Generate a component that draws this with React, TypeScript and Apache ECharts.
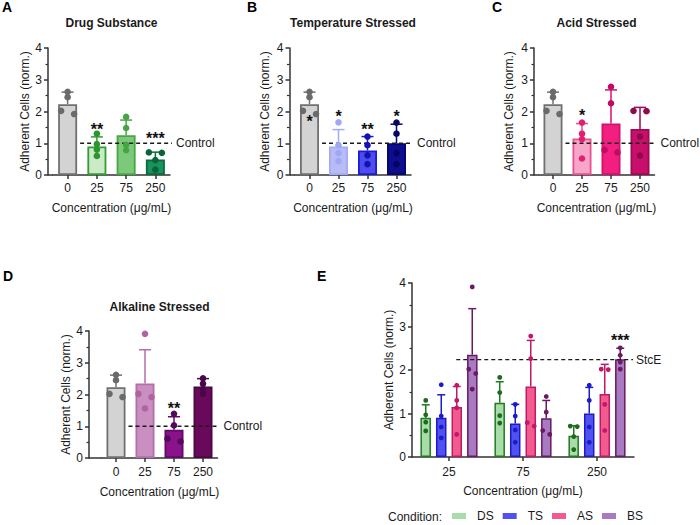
import React, { useEffect, useRef } from 'react';
import * as echarts from 'echarts';

// ---------- data ----------
const concentrations = ['0', '25', '75', '250'];
const eGroups = ['25', '75', '250'];
const conditions = ['DS', 'TS', 'AS', 'BS'];

const controlMean = 2.23;
const controlSD = 0.38;
const controlPoints = [2.62, 2.45, 2.02, 1.92];

const dsMeans = [0.9, 1.25, 0.49];
const dsSD = [0.3, 0.48, 0.23];
const dsPoints = [[1.3, 0.97, 0.8, 0.6], [1.83, 1.48, 0.95, 0.78], [0.71, 0.7, 0.47, 0.17]];

const tsMeans = [0.9, 0.77, 1.0];
const tsSD = [0.53, 0.44, 0.6];
const tsPoints = [[1.66, 0.94, 0.69, 0.44], [1.21, 0.94, 0.62, 0.34], [1.65, 1.3, 0.69, 0.34]];

const asMeans = [1.15, 1.62, 1.45];
const asSD = [0.47, 1.06, 0.68];
const asPoints = [[1.65, 1.3, 1.13, 0.52], [2.78, 2.26, 0.79, 0.71], [2.02, 2.01, 1.21, 0.61]];

const bsMeans = [2.35, 0.89, 2.25];
const bsSD = [1.06, 0.41, 0.25];
const bsPoints = [[3.91, 2.02, 1.92, 1.56], [1.39, 1.03, 0.61, 0.52], [2.51, 2.34, 2.18, 2.02]];

const controlLevel = 1;
const stceLevel = 2.24;

const dsStars = ['', '**', '', '***'];
const dsStarLevel = [0, 1.57, 0, 1.26];
const tsStars = ['*', '*', '**', '*'];
const tsStarLevel = [1.8, 1.98, 1.57, 1.98];
const asStars = ['', '*', '', ''];
const asStarLevel = [0, 1.99, 0, 0];
const bsStars = ['', '', '**', ''];
const bsStarLevel = [0, 0, 1.67, 0];
const eStars = [['', '', ''], ['', '', ''], ['', '', ''], ['', '', '***']];
const eStarLevel = [[0, 0, 0], [0, 0, 0], [0, 0, 0], [0, 0, 2.76]];

const panelTitles = ['Drug Substance', 'Temperature Stressed', 'Acid Stressed', 'Alkaline Stressed'];
const panelLetters = ['A', 'B', 'C', 'D', 'E'];

// ---------- styles ----------
const FONT = '"Liberation Sans", Arial, Helvetica, sans-serif';
const TXT = '#1a1a1a';
const AX = '#333333';

const grayFill = '#d3d3d3';
const grayBorder = '#707070';
const grayDot = '#6a6a6a';

const panelStyles = [
  {
    fills: [grayFill, '#cbeac6', '#7cc97a', '#17935c'],
    borders: [grayBorder, '#2f9e33', '#47a647', '#0c6a3c'],
    dots: [grayDot, '#2a962e', '#45a545', '#0b6339'],
  },
  {
    fills: [grayFill, '#b7bcf7', '#4d4ded', '#0d0d8f'],
    borders: [grayBorder, '#a4abf5', '#1c1cd2', '#07076b'],
    dots: [grayDot, '#a0a7f4', '#1212b8', '#050560'],
  },
  {
    fills: [grayFill, '#f7a6c9', '#f21f80', '#c8106b'],
    borders: [grayBorder, '#ea4f91', '#d3106c', '#9d0a55'],
    dots: [grayDot, '#e21f72', '#c20a62', '#8f0a4b'],
  },
  {
    fills: [grayFill, '#c98fc1', '#8a128a', '#680a59'],
    borders: [grayBorder, '#b26fa9', '#600a69', '#4c0846'],
    dots: [grayDot, '#b062a2', '#520a5a', '#470848'],
  },
];
const eStyles = {
  fills: ['#a9dca8', '#5151f0', '#f25b8e', '#a87ac1'],
  borders: ['#1f7b1f', '#1b1bc8', '#c1186a', '#6a1a60'],
  dots: ['#1e6b1e', '#1b1bc8', '#c1186a', '#6a1a60'],
};

const grids = [
  { left: 53, top: 48, width: 117, height: 127 },
  { left: 295, top: 48, width: 116, height: 127 },
  { left: 538.5, top: 48, width: 116, height: 127 },
  { left: 101.5, top: 331, width: 116, height: 127 },
  { left: 412, top: 283, width: 222, height: 174 },
];
const yOffsets = [5, 5.5, 4.5, 12.5, 0];
const yNameGaps = [16, 19, 19, 13, 17];
const xLabelMargins = [7, 7, 7, 8, 9];
const xNameGaps = [27, 27, 27, 28, 28];
const titleCenters = [
  [111.5, 23],
  [353, 23],
  [596.5, 23],
  [159.5, 307],
];
const letterPos = [
  [2, 7],
  [247, 7],
  [492, 7],
  [3, 276],
  [317, 276],
];

// ---------- renderers ----------
type RenderOpts = {
  points: number[][];
  dotColors: string[];
  errColors: string[];
  stars: string[];
  starLevel: number[];
  xOffset: number;
  capW: number;
  r: number;
  spread: number;
  thr: number;
  ref?: { level: number; start: number; endExtra: number; textGap: number; label: string };
};

function makeRender(o: RenderOpts) {
  return (params: any, api: any) => {
    const i = params.dataIndex;
    const idx = api.value(0);
    const mean = api.value(1);
    const sd = api.value(2);
    const base = api.coord([idx, mean]);
    const cx = base[0] + o.xOffset;
    const yMean = base[1];
    const yTop = api.coord([idx, mean + sd])[1];
    const children: any[] = [];
    const ec = o.errColors[i];

    if (i === 0 && o.ref) {
      const cs = params.coordSys;
      const p = api.coord([0, o.ref.level]);
      const x1 = p[0] + o.ref.start;
      const x2 = cs.x + cs.width + o.ref.endExtra;
      children.push({
        type: 'line',
        z2: 5,
        shape: { x1, y1: p[1], x2, y2: p[1] },
        style: { stroke: '#1a1a1a', lineWidth: 1.3, lineDash: [4, 3] },
      });
      children.push({
        type: 'text',
        x: x2 + o.ref.textGap,
        y: p[1],
        style: { text: o.ref.label, fill: TXT, font: `12px ${FONT}`, align: 'left', verticalAlign: 'middle' },
      });
    }

    children.push({
      type: 'line',
      z2: 10,
      shape: { x1: cx, y1: yMean, x2: cx, y2: yTop },
      style: { stroke: ec, lineWidth: 1.5 },
    });
    children.push({
      type: 'line',
      z2: 10,
      shape: { x1: cx - o.capW / 2, y1: yTop, x2: cx + o.capW / 2, y2: yTop },
      style: { stroke: ec, lineWidth: 1.5 },
    });

    const pts = o.points[i]
      .map((v) => api.coord([idx, v])[1])
      .sort((a: number, b: number) => a - b);
    const clusters: number[][] = [];
    pts.forEach((y: number) => {
      const last = clusters[clusters.length - 1];
      if (last && y - last[last.length - 1] < o.thr) last.push(y);
      else clusters.push([y]);
    });
    clusters.forEach((cl) => {
      const n = cl.length;
      cl.forEach((y, j) => {
        children.push({
          type: 'circle',
          z2: 20,
          shape: { cx: cx + (j - (n - 1) / 2) * o.spread, cy: y, r: o.r },
          style: { fill: o.dotColors[i] },
        });
      });
    });

    if (o.stars[i]) {
      const ys = api.coord([idx, o.starLevel[i]])[1];
      children.push({
        type: 'text',
        z2: 30,
        x: cx,
        y: ys + 4,
        style: {
          text: o.stars[i],
          fill: '#111',
          font: `bold 16px ${FONT}`,
          align: 'center',
          verticalAlign: 'middle',
        },
      });
    }
    return { type: 'group', children };
  };
}

function buildOption() {
  const grid: any[] = grids.map((g) => ({ ...g, containLabel: false }));
  const xAxis: any[] = [];
  const yAxis: any[] = [];
  const series: any[] = [];
  const graphic: any[] = [];

  for (let k = 0; k < 5; k++) {
    const isE = k === 4;
    xAxis.push({
      type: 'category',
      gridIndex: k,
      data: isE ? eGroups : concentrations,
      axisLine: { show: true, lineStyle: { color: AX, width: 1.5 } },
      axisTick: { show: true, alignWithLabel: true, length: 4, lineStyle: { color: AX, width: 1.5 } },
      axisLabel: { fontSize: 12, color: TXT, margin: xLabelMargins[k], fontFamily: FONT },
      name: 'Concentration (μg/mL)',
      nameLocation: 'middle',
      nameGap: xNameGaps[k],
      nameTextStyle: { fontSize: 12, color: TXT, fontFamily: FONT },
      splitLine: { show: false },
    });
    yAxis.push({
      type: 'value',
      gridIndex: k,
      min: 0,
      max: 4,
      interval: 1,
      offset: yOffsets[k],
      name: 'Adherent Cells (norm.)',
      nameLocation: 'middle',
      nameGap: yNameGaps[k],
      nameTextStyle: { fontSize: 12, color: TXT, fontFamily: FONT },
      axisLine: { show: true, lineStyle: { color: AX, width: 1.5 } },
      axisTick: { show: true, length: 4, lineStyle: { color: AX, width: 1.5 } },
      minorTick: { show: true, splitNumber: 2, length: 2.5, lineStyle: { color: AX, width: 1.2 } },
      axisLabel: { fontSize: 12, color: TXT, margin: 6, fontFamily: FONT },
      splitLine: { show: false },
    });
    if (yOffsets[k] > 0) {
      const g = grids[k];
      graphic.push({
        type: 'line',
        shape: { x1: g.left - yOffsets[k], y1: g.top + g.height, x2: g.left, y2: g.top + g.height },
        style: { stroke: AX, lineWidth: 1.5 },
      });
    }
  }

  const panelData = [
    { means: dsMeans, sd: dsSD, pts: dsPoints, stars: dsStars, lvl: dsStarLevel },
    { means: tsMeans, sd: tsSD, pts: tsPoints, stars: tsStars, lvl: tsStarLevel },
    { means: asMeans, sd: asSD, pts: asPoints, stars: asStars, lvl: asStarLevel },
    { means: bsMeans, sd: bsSD, pts: bsPoints, stars: bsStars, lvl: bsStarLevel },
  ];

  panelData.forEach((pd, k) => {
    const st = panelStyles[k];
    const means = [controlMean, ...pd.means];
    const sds = [controlSD, ...pd.sd];
    const pts = [controlPoints, ...pd.pts];
    series.push({
      type: 'bar',
      xAxisIndex: k,
      yAxisIndex: k,
      barWidth: 19,
      silent: true,
      data: means.map((v, i) => ({
        value: v,
        itemStyle: { color: st.fills[i], borderColor: st.borders[i], borderWidth: 1.8 },
      })),
    });
    series.push({
      type: 'custom',
      xAxisIndex: k,
      yAxisIndex: k,
      silent: true,
      clip: false,
      z: 5,
      encode: { x: 0, y: 1 },
      data: means.map((v, i) => [i, v, sds[i]]),
      renderItem: makeRender({
        points: pts,
        dotColors: st.dots,
        errColors: st.borders,
        stars: pd.stars,
        starLevel: pd.lvl,
        xOffset: 0,
        capW: 12,
        r: 3.3,
        spread: 13,
        thr: 5,
        ref: { level: controlLevel, start: 12.5, endExtra: 2, textGap: 4, label: 'Control' },
      }),
    });
  });

  const eMeans = [dsMeans, tsMeans, asMeans, bsMeans];
  const eSD = [dsSD, tsSD, asSD, bsSD];
  const ePts = [dsPoints, tsPoints, asPoints, bsPoints];
  const eBarW = 10.5;
  const ePitch = 15.5;
  conditions.forEach((name, c) => {
    series.push({
      type: 'bar',
      name,
      xAxisIndex: 4,
      yAxisIndex: 4,
      barWidth: eBarW,
      barGap: '48%',
      silent: true,
      itemStyle: { color: eStyles.fills[c], borderColor: eStyles.borders[c], borderWidth: 1.5 },
      data: eMeans[c],
    });
  });
  conditions.forEach((name, c) => {
    series.push({
      type: 'custom',
      xAxisIndex: 4,
      yAxisIndex: 4,
      silent: true,
      clip: false,
      z: 5,
      encode: { x: 0, y: 1 },
      data: eMeans[c].map((v, i) => [i, v, eSD[c][i]]),
      renderItem: makeRender({
        points: ePts[c],
        dotColors: eStyles.dots.map(() => eStyles.dots[c]),
        errColors: eStyles.borders.map(() => eStyles.borders[c]),
        stars: eStars[c],
        starLevel: eStarLevel[c],
        xOffset: (c - 1.5) * ePitch,
        capW: 8,
        r: 2.4,
        spread: 7,
        thr: 5,
        ref:
          c === 3
            ? { level: stceLevel, start: eBarW / 2 + 2, endExtra: -1, textGap: 3, label: 'StcE' }
            : undefined,
      }),
    });
  });

  panelTitles.forEach((t, k) => {
    graphic.push({
      type: 'text',
      x: titleCenters[k][0],
      y: titleCenters[k][1],
      style: { text: t, fill: TXT, font: `bold 12px ${FONT}`, align: 'center', verticalAlign: 'middle' },
    });
  });
  panelLetters.forEach((t, k) => {
    graphic.push({
      type: 'text',
      x: letterPos[k][0],
      y: letterPos[k][1],
      style: { text: t, fill: '#000', font: `bold 14px ${FONT}`, align: 'left', verticalAlign: 'middle' },
    });
  });
  graphic.push({
    type: 'text',
    x: 388,
    y: 517,
    style: { text: 'Condition:', fill: TXT, font: `12px ${FONT}`, align: 'left', verticalAlign: 'middle' },
  });

  return {
    animation: false,
    backgroundColor: '#ffffff',
    grid,
    xAxis,
    yAxis,
    series,
    graphic,
    legend: {
      data: conditions.map((n) => ({ name: n, itemStyle: { borderWidth: 0 } })),
      left: 452,
      top: 510,
      padding: 0,
      itemWidth: 14,
      itemHeight: 6,
      itemGap: 9,
      icon: 'rect',
      selectedMode: false,
      itemStyle: { borderWidth: 0 },
      textStyle: { fontSize: 12, color: TXT, fontFamily: FONT, padding: [0, 0, 0, 6] },
    },
  };
}

export default function App() {
  const ref = useRef<HTMLDivElement>(null);
  useEffect(() => {
    if (!ref.current) return;
    const chart = echarts.init(ref.current, undefined, { renderer: 'svg' });
    chart.setOption(buildOption() as any);
    return () => chart.dispose();
  }, []);
  return (
    <div
      ref={ref}
      style={{ position: 'fixed', left: 0, top: 0, width: 700, height: 525, background: '#fff' }}
    />
  );
}
